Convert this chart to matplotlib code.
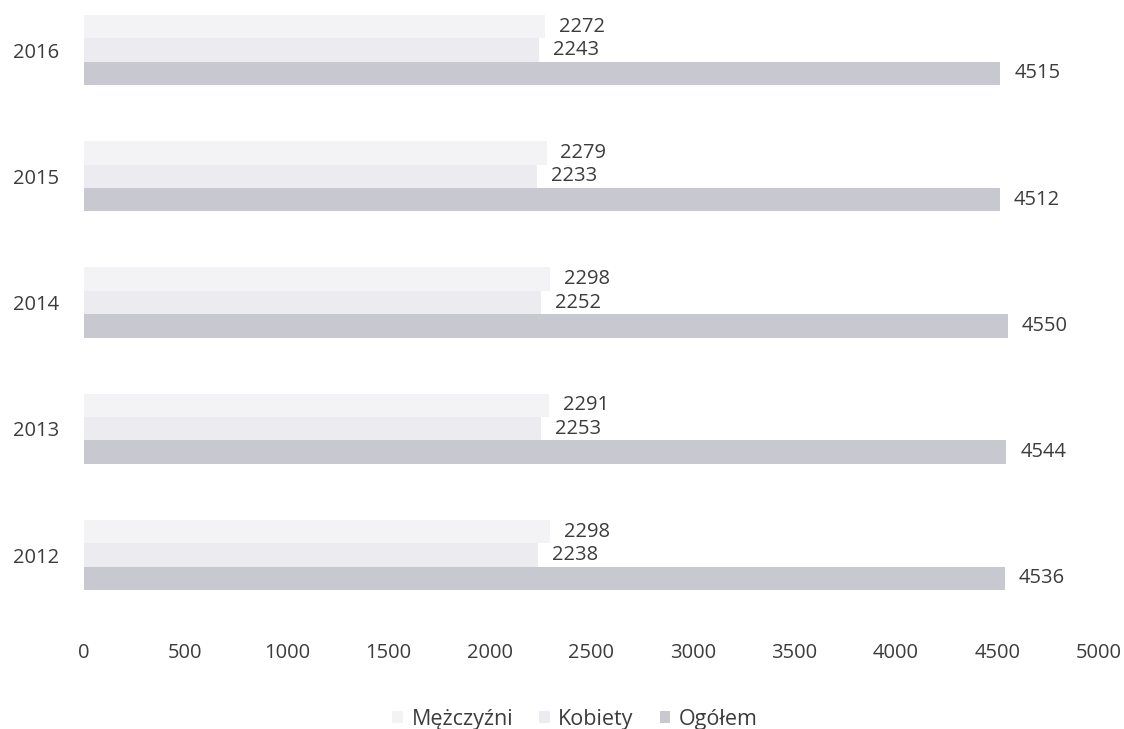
import numpy as np
import matplotlib.pyplot as plt

plt.rcParams['font.family'] = ['Open Sans', 'DejaVu Sans']

# data
years = ['2012', '2013', '2014', '2015', '2016']
men = [2298, 2291, 2298, 2279, 2272]
women = [2238, 2253, 2252, 2233, 2243]
total = [4536, 4544, 4550, 4512, 4515]

text_color = '#3c3c3c'
fig = plt.figure(figsize=(11.24, 7.29), dpi=100)
ax = fig.add_axes([0.0747, 0.152, 0.903, 0.866])

y = np.arange(len(years))
h = 0.185
b_men = ax.barh(y + h, men, height=h, color='#f3f3f6', label='Mężczyźni')
b_women = ax.barh(y, women, height=h, color='#ececf0', label='Kobiety')
b_total = ax.barh(y - h, total, height=h, color='#c7c8d0', label='Ogółem')

for bars in (b_men, b_women, b_total):
    ax.bar_label(bars, padding=10, fontsize=14.5, color=text_color)

ax.set_xlim(0, 5000)
ax.set_ylim(-0.5, 4.5)
ax.set_xticks(np.arange(0, 5001, 500))
ax.set_yticks(y)
ax.set_yticklabels(years)
ax.tick_params(axis='x', length=0, pad=18, labelsize=14.5, labelcolor=text_color)
ax.tick_params(axis='y', length=0, pad=18, labelsize=14.5, labelcolor=text_color)
for s in ax.spines.values():
    s.set_visible(False)

handles = [b_men, b_women, b_total]
fig.legend(handles, [hd.get_label() for hd in handles], loc='center',
           bbox_to_anchor=(575 / 1124, 1 - 719 / 729), ncol=3, frameon=False,
           fontsize=15.5, labelcolor=text_color, handlelength=0.5, handleheight=0.5,
           handletextpad=0.4, columnspacing=1.2)

fig.savefig('out.png', dpi=100)
